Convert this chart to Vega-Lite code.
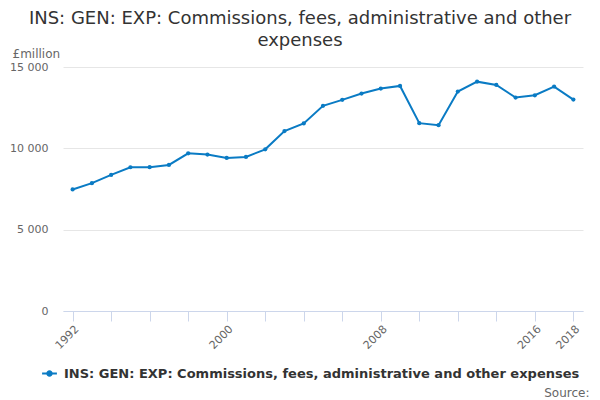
{
  "$schema": "https://vega.github.io/schema/vega-lite/v6.json",
  "autosize": "none",
  "width": 520,
  "height": 244,
  "padding": {"left": 63, "top": 67, "right": 17, "bottom": 89},
  "background": "white",
  "title": {
    "text": ["INS: GEN: EXP: Commissions, fees, administrative and other", "expenses"],
    "anchor": "middle",
    "dx": -23,
    "offset": 20,
    "dy": 23,
    "font": "DejaVu Sans",
    "fontSize": 18,
    "fontWeight": "normal",
    "color": "#333333",
    "lineHeight": 22
  },
  "data": {
    "values": [
      {"year": 1992, "value": 7473, "series": "INS: GEN: EXP: Commissions, fees, administrative and other expenses"},
      {"year": 1993, "value": 7858, "series": "INS: GEN: EXP: Commissions, fees, administrative and other expenses"},
      {"year": 1994, "value": 8366, "series": "INS: GEN: EXP: Commissions, fees, administrative and other expenses"},
      {"year": 1995, "value": 8837, "series": "INS: GEN: EXP: Commissions, fees, administrative and other expenses"},
      {"year": 1996, "value": 8840, "series": "INS: GEN: EXP: Commissions, fees, administrative and other expenses"},
      {"year": 1997, "value": 8978, "series": "INS: GEN: EXP: Commissions, fees, administrative and other expenses"},
      {"year": 1998, "value": 9694, "series": "INS: GEN: EXP: Commissions, fees, administrative and other expenses"},
      {"year": 1999, "value": 9615, "series": "INS: GEN: EXP: Commissions, fees, administrative and other expenses"},
      {"year": 2000, "value": 9406, "series": "INS: GEN: EXP: Commissions, fees, administrative and other expenses"},
      {"year": 2001, "value": 9468, "series": "INS: GEN: EXP: Commissions, fees, administrative and other expenses"},
      {"year": 2002, "value": 9939, "series": "INS: GEN: EXP: Commissions, fees, administrative and other expenses"},
      {"year": 2003, "value": 11059, "series": "INS: GEN: EXP: Commissions, fees, administrative and other expenses"},
      {"year": 2004, "value": 11530, "series": "INS: GEN: EXP: Commissions, fees, administrative and other expenses"},
      {"year": 2005, "value": 12613, "series": "INS: GEN: EXP: Commissions, fees, administrative and other expenses"},
      {"year": 2006, "value": 12981, "series": "INS: GEN: EXP: Commissions, fees, administrative and other expenses"},
      {"year": 2007, "value": 13366, "series": "INS: GEN: EXP: Commissions, fees, administrative and other expenses"},
      {"year": 2008, "value": 13672, "series": "INS: GEN: EXP: Commissions, fees, administrative and other expenses"},
      {"year": 2009, "value": 13837, "series": "INS: GEN: EXP: Commissions, fees, administrative and other expenses"},
      {"year": 2010, "value": 11548, "series": "INS: GEN: EXP: Commissions, fees, administrative and other expenses"},
      {"year": 2011, "value": 11426, "series": "INS: GEN: EXP: Commissions, fees, administrative and other expenses"},
      {"year": 2012, "value": 13488, "series": "INS: GEN: EXP: Commissions, fees, administrative and other expenses"},
      {"year": 2013, "value": 14100, "series": "INS: GEN: EXP: Commissions, fees, administrative and other expenses"},
      {"year": 2014, "value": 13899, "series": "INS: GEN: EXP: Commissions, fees, administrative and other expenses"},
      {"year": 2015, "value": 13121, "series": "INS: GEN: EXP: Commissions, fees, administrative and other expenses"},
      {"year": 2016, "value": 13262, "series": "INS: GEN: EXP: Commissions, fees, administrative and other expenses"},
      {"year": 2017, "value": 13794, "series": "INS: GEN: EXP: Commissions, fees, administrative and other expenses"},
      {"year": 2018, "value": 12999, "series": "INS: GEN: EXP: Commissions, fees, administrative and other expenses"}
    ]
  },
  "mark": {"type": "line", "strokeWidth": 2, "point": {"filled": true, "size": 18}},
  "encoding": {
    "x": {
      "field": "year",
      "type": "quantitative",
      "scale": {"domain": [1991.5, 2018.5], "nice": false, "zero": false},
      "axis": {
        "values": [1992, 1994, 1996, 1998, 2000, 2002, 2004, 2006, 2008, 2010, 2012, 2014, 2016, 2018],
        "labelExpr": "indexof([1992, 2000, 2008, 2016, 2018], datum.value) >= 0 ? datum.value + '' : ''",
        "labelAngle": -45,
        "labelFont": "DejaVu Sans",
        "labelFontSize": 11,
        "labelColor": "#666666",
        "labelPadding": 2,
        "labelOverlap": false,
        "tickColor": "#ccd6eb",
        "tickSize": 10,
        "domainColor": "#ccd6eb",
        "grid": false,
        "title": "Source:",
        "titleFont": "DejaVu Sans",
        "titleFontSize": 12,
        "titleFontWeight": "normal",
        "titleColor": "#666666",
        "titleAlign": "right",
        "titleAnchor": "end",
        "titleBaseline": "alphabetic",
        "titleX": 526,
        "titleY": 85
      }
    },
    "y": {
      "field": "value",
      "type": "quantitative",
      "scale": {"domain": [0, 15000], "nice": false},
      "axis": {
        "values": [0, 5000, 10000, 15000],
        "labelExpr": "replace(format(datum.value, ','), ',', ' ')",
        "labelFont": "DejaVu Sans",
        "labelFontSize": 11,
        "labelColor": "#666666",
        "labelPadding": 15,
        "ticks": false,
        "domain": false,
        "gridColor": "#e6e6e6",
        "title": "£million",
        "titleFont": "DejaVu Sans",
        "titleFontSize": 12,
        "titleFontWeight": "normal",
        "titleColor": "#666666",
        "titleAngle": 0,
        "titleAlign": "left",
        "titleBaseline": "alphabetic",
        "titleX": -51,
        "titleY": -10
      }
    },
    "color": {
      "field": "series",
      "type": "nominal",
      "scale": {"range": ["#0a7bc4"]},
      "legend": {
        "title": null,
        "orient": "none",
        "legendX": -22,
        "legendY": 298,
        "symbolType": "M-1,0H1M-0.3,0A0.3,0.3 0 1,1 0.3,0A0.3,0.3 0 1,1 -0.3,0Z",
        "symbolSize": 220,
        "symbolStrokeWidth": 2,
        "symbolFillColor": "#0a7bc4",
        "labelFont": "DejaVu Sans",
        "labelFontSize": 13,
        "labelFontWeight": "bold",
        "labelColor": "#333333",
        "labelLimit": 600,
        "labelOffset": 6
      }
    }
  },
  "config": {"view": {"stroke": null}}
}
